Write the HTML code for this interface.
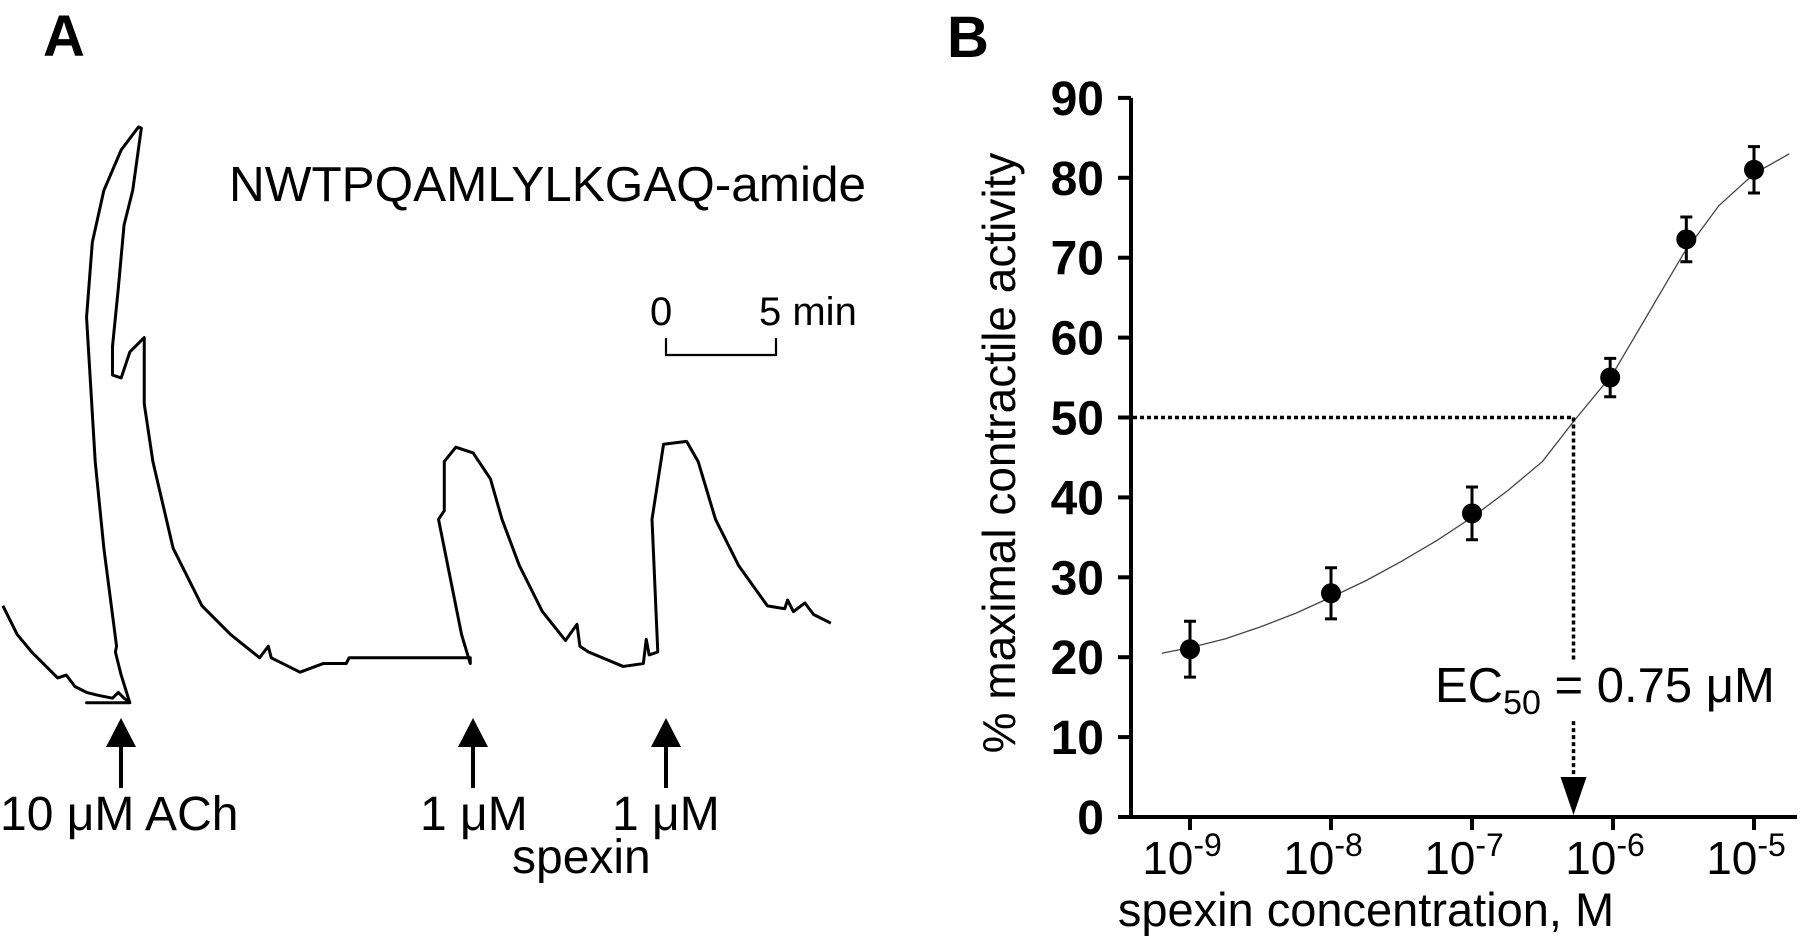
<!DOCTYPE html>
<html><head><meta charset="utf-8"><style>
html,body{margin:0;padding:0;background:#fff}
svg{display:block;font-family:"Liberation Sans",Arial,sans-serif}
</style></head><body>
<svg id="fig" width="1800" height="948" viewBox="0 0 1800 948">
<g>
<text x="43" y="56" font-size="58" font-weight="bold">A</text>
<text x="229" y="201" font-size="49" textLength="637" lengthAdjust="spacingAndGlyphs">NWTPQAMLYLKGAQ-amide</text>
<text x="650" y="325" font-size="40">0</text>
<text x="759" y="325" font-size="40">5 min</text>
<polyline points="666,338 666,355 776,355 776,338" fill="none" stroke="#000" stroke-width="2.2"/>
<g transform="scale(0.577)">
<polyline fill="none" stroke="#000" stroke-width="3" vector-effect="non-scaling-stroke" stroke-linejoin="round" points="5,1050 30,1100 55,1130 75,1150 100,1175 115,1170 130,1190 150,1200 170,1205 195,1210 205,1200 215,1210 225,1218 150,1218 225,1218 210,1170 200,1130 202,1120 180,950 165,800 150,550 160,420 180,330 210,260 240,220 245,222 230,330 215,390 205,500 195,600 195,650 210,655 225,610 245,590 250,585 250,700 265,800 300,950 350,1050 400,1100 450,1140 465,1120 470,1140 520,1165 560,1150 600,1150 605,1140 700,1140 815,1140 815,1150 800,1100 760,900 770,885 770,800 790,775 820,785 850,830 870,900 900,980 940,1060 980,1110 1000,1082 1005,1120 1020,1130 1080,1155 1115,1150 1120,1108 1125,1135 1140,1130 1130,900 1150,770 1190,765 1210,800 1240,900 1280,980 1330,1050 1360,1055 1365,1040 1375,1060 1395,1045 1410,1065 1440,1080"/>
</g>
<g><polygon points="121,718 106,747 136,747" fill="#000"/><line x1="121" y1="745" x2="121" y2="788" stroke="#000" stroke-width="4"/></g>
<g><polygon points="473,718 458,747 488,747" fill="#000"/><line x1="473" y1="745" x2="473" y2="788" stroke="#000" stroke-width="4"/></g>
<g><polygon points="666,718 651,747 681,747" fill="#000"/><line x1="666" y1="745" x2="666" y2="788" stroke="#000" stroke-width="4"/></g>
<text x="0" y="830" font-size="48">10 μM ACh</text>
<text x="420" y="830" font-size="48">1 μM</text>
<text x="612" y="830" font-size="48">1 μM</text>
<text x="512" y="873" font-size="48">spexin</text>
</g>
<g id="panelB">
<text x="947" y="57" font-size="58" font-weight="bold">B</text>
</g>
</svg>
<script>
const yTicks=[0,10,20,30,40,50,60,70,80,90];
const xTickExps=[-9,-8,-7,-6,-5];
const conc=[-9,-8,-7,-6.02,-5.48,-5];
const resp=[21,28,38,55,72.3,81];
const errs=[3.5,3.2,3.3,2.4,2.8,2.9];
const curveX=[-9.2,-9,-8.75,-8.5,-8.25,-8,-7.75,-7.5,-7.25,-7,-6.75,-6.5,-6.28,-6,-5.75,-5.5,-5.25,-5,-4.75];
const curveY=[20.5,21.2,22.3,23.8,25.5,27.5,29.6,32,34.6,37.5,40.8,44.5,49.5,55.5,63,70.5,76.5,80.5,83];
const ec50Log=-6.28;
const NS='http://www.w3.org/2000/svg';
const g=document.getElementById('panelB');
const X=v=>1190+(v+9)*141;
const Y=v=>817-v*7.99;
function mk(tag,at,txt){const e=document.createElementNS(NS,tag);for(const k in at)e.setAttribute(k,at[k]);if(txt!==undefined)e.textContent=txt;g.appendChild(e);return e;}
let e;
e=mk('line',{x1:1131,y1:Y(90),x2:1131,y2:Y(0),stroke:'#000','stroke-width':4});


e=mk('line',{x1:1129,y1:Y(0),x2:1797,y2:Y(0),stroke:'#000','stroke-width':4});


yTicks.forEach(t=>{
 e=mk('line',{x1:1118,y1:Y(t),x2:1131,y2:Y(t),stroke:'#000','stroke-width':4});
 
 
 e=mk('text',{x:1104,y:Y(t)+17,'font-size':48,'font-weight':'bold','text-anchor':'end'},String(t));
 
 
});
xTickExps.forEach(t=>{
 e=mk('text',{x:X(t)-8,y:874,'font-size':46,'text-anchor':'middle'});
 
 
 const a=document.createElementNS(NS,'tspan');a.textContent='10';e.appendChild(a);
 const b=document.createElementNS(NS,'tspan');b.setAttribute('dy','-18');b.setAttribute('font-size','32');b.textContent=String(t);e.appendChild(b);
 e=mk('line',{x1:X(t),y1:Y(0),x2:X(t),y2:Y(0)+13,stroke:'#000','stroke-width':4});
 
 
});
e=mk('polyline',{points:curveX.map((x,i)=>X(x)+','+Y(curveY[i])).join(' '),fill:'none',stroke:'#444','stroke-width':1.3});


e=mk('line',{x1:1133,y1:Y(50),x2:X(ec50Log),y2:Y(50),stroke:'#000','stroke-width':3.5,'stroke-dasharray':'4 3'});


e=mk('line',{x1:X(ec50Log),y1:Y(50),x2:X(ec50Log),y2:Y(19.5),stroke:'#000','stroke-width':3.5,'stroke-dasharray':'4 3'});


e=mk('line',{x1:X(ec50Log),y1:Y(12),x2:X(ec50Log),y2:Y(4),stroke:'#000','stroke-width':3.5,'stroke-dasharray':'4 3'});


e=mk('polygon',{points:`${X(ec50Log)-13},${Y(5)} ${X(ec50Log)+13},${Y(5)} ${X(ec50Log)},${Y(0)-2}`,fill:'#000'});


e=mk('text',{x:1435,y:702,'font-size':49});


[['EC',0,49],['50',12,34],[' = 0.75 μM',-12,49]].forEach(([t,dy,fs])=>{const s=document.createElementNS(NS,'tspan');s.setAttribute('dy',dy);s.setAttribute('font-size',fs);s.textContent=t;e.appendChild(s);});
conc.forEach((c,i)=>{
 const cx=X(c),cy=Y(resp[i]),hi=Y(resp[i]+errs[i]),lo=Y(resp[i]-errs[i]);
 e=mk('path',{d:`M${cx},${hi}V${lo}M${cx-6},${hi}H${cx+6}M${cx-6},${lo}H${cx+6}`,stroke:'#000','stroke-width':3,fill:'none'});
 
 
 e=mk('circle',{cx:cx,cy:cy,r:10,fill:'#000'});
 
 
});
e=mk('text',{x:1366,y:926,'font-size':47,'text-anchor':'middle'},'spexin concentration, M');


e=mk('text',{x:0,y:0,'font-size':46,'text-anchor':'middle',transform:'translate(1015,453) rotate(-90)'},'% maximal contractile activity');


</script>
</body></html>
